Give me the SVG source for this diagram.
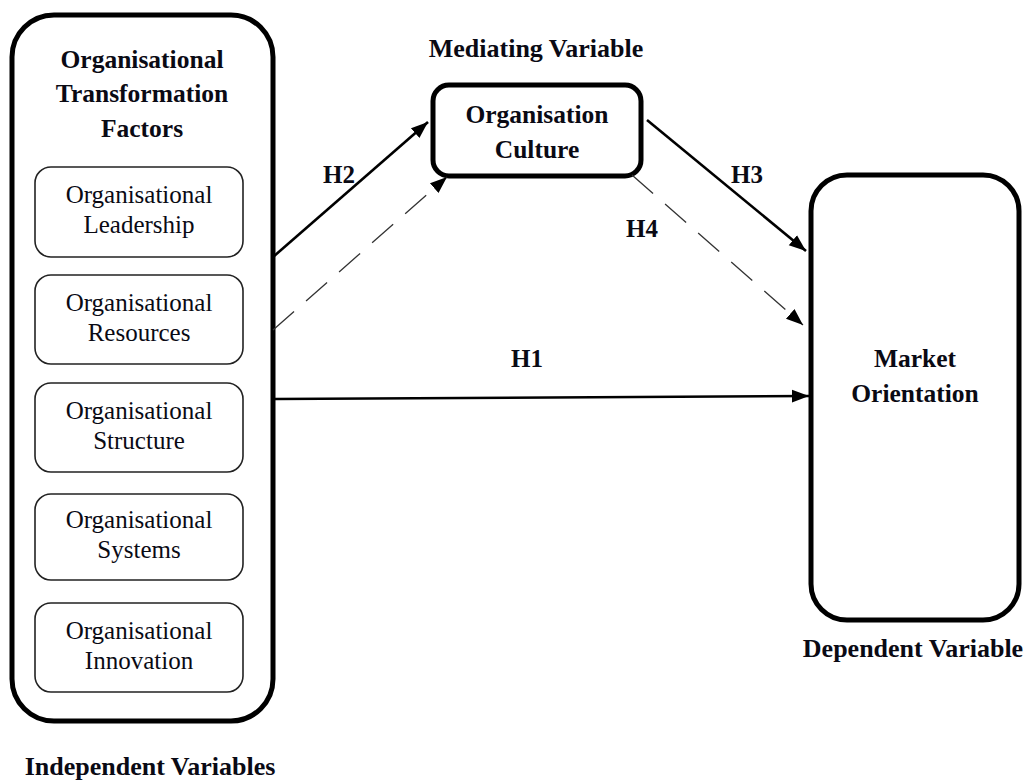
<svg xmlns="http://www.w3.org/2000/svg" width="1028" height="780" viewBox="0 0 1028 780">
  <style>
    .heavy { fill: #fff; stroke: #000; stroke-width: 5; }
    .item { fill: #fff; stroke: #222; stroke-width: 1.6; }
    .t { font-family: "Liberation Serif", "Times New Roman", serif; fill: #0a0a14; text-anchor: middle; }
    .b { font-weight: bold; font-size: 25.5px; }
    .r { font-size: 25px; }
    .lbl { font-weight: bold; font-size: 26px; }
    .h { font-weight: bold; font-size: 25px; }
    .solid { stroke: #000; stroke-width: 2.6; fill: none; }
    .dash { stroke: #333; stroke-width: 1.3; fill: none; stroke-dasharray: 28 16; }
  </style>
  <defs>
    <marker id="arrowBig" viewBox="0 0 10 10" refX="10" refY="5" markerWidth="17" markerHeight="17" markerUnits="userSpaceOnUse" orient="auto">
      <path d="M0,1.2 L10,5 L0,8.8 z" fill="#000"/>
    </marker>
  </defs>

  <rect width="1028" height="780" fill="#fff"/>

  <!-- Independent variables: transformation factors -->
  <g id="transformation-factors">
    <rect class="heavy" x="12" y="15" width="261" height="706" rx="42"/>
    <text class="t b" x="142" y="68">Organisational</text>
    <text class="t b" x="142" y="102">Transformation</text>
    <text class="t b" x="142" y="137">Factors</text>
  </g>
  <g id="leadership">
    <rect class="item" x="35" y="167" width="208" height="90" rx="16"/>
    <text class="t r" x="139" y="203">Organisational</text>
    <text class="t r" x="139" y="233">Leadership</text>
  </g>
  <g id="resources">
    <rect class="item" x="35" y="275" width="208" height="89" rx="16"/>
    <text class="t r" x="139" y="311">Organisational</text>
    <text class="t r" x="139" y="341">Resources</text>
  </g>
  <g id="structure">
    <rect class="item" x="35" y="383" width="208" height="89" rx="16"/>
    <text class="t r" x="139" y="419">Organisational</text>
    <text class="t r" x="139" y="449">Structure</text>
  </g>
  <g id="systems">
    <rect class="item" x="35" y="494" width="208" height="86" rx="16"/>
    <text class="t r" x="139" y="528">Organisational</text>
    <text class="t r" x="139" y="558">Systems</text>
  </g>
  <g id="innovation">
    <rect class="item" x="35" y="603" width="208" height="89" rx="16"/>
    <text class="t r" x="139" y="639">Organisational</text>
    <text class="t r" x="139" y="669">Innovation</text>
  </g>
  <g id="independent-label">
    <text class="t lbl" x="150" y="775">Independent Variables</text>
  </g>

  <!-- Mediator -->
  <g id="culture">
    <text class="t lbl" x="536" y="57">Mediating Variable</text>
    <rect class="heavy" x="433" y="85" width="208" height="91" rx="16"/>
    <text class="t b" x="537" y="123">Organisation</text>
    <text class="t b" x="537" y="158">Culture</text>
  </g>

  <!-- Dependent variable -->
  <g id="market-orientation">
    <rect class="heavy" x="811" y="175" width="208" height="445" rx="36"/>
    <text class="t b" x="915" y="367">Market</text>
    <text class="t b" x="915" y="402">Orientation</text>
    <text class="t lbl" x="913" y="657">Dependent Variable</text>
  </g>

  <!-- Hypothesised paths -->
  <g id="connectors">
    <line class="solid" x1="273" y1="257" x2="428" y2="122" marker-end="url(#arrowBig)"/>
    <line class="dash" x1="273" y1="330" x2="447" y2="177" marker-end="url(#arrowBig)"/>
    <line class="solid" x1="647" y1="120" x2="806" y2="251" marker-end="url(#arrowBig)"/>
    <line class="dash" x1="632" y1="175" x2="803" y2="325" marker-end="url(#arrowBig)"/>
    <line class="solid" x1="275" y1="399" x2="809" y2="396" marker-end="url(#arrowBig)"/>
    <text class="t h" x="339" y="183">H2</text>
    <text class="t h" x="642" y="237">H4</text>
    <text class="t h" x="747" y="183">H3</text>
    <text class="t h" x="527" y="367">H1</text>
  </g>
</svg>
